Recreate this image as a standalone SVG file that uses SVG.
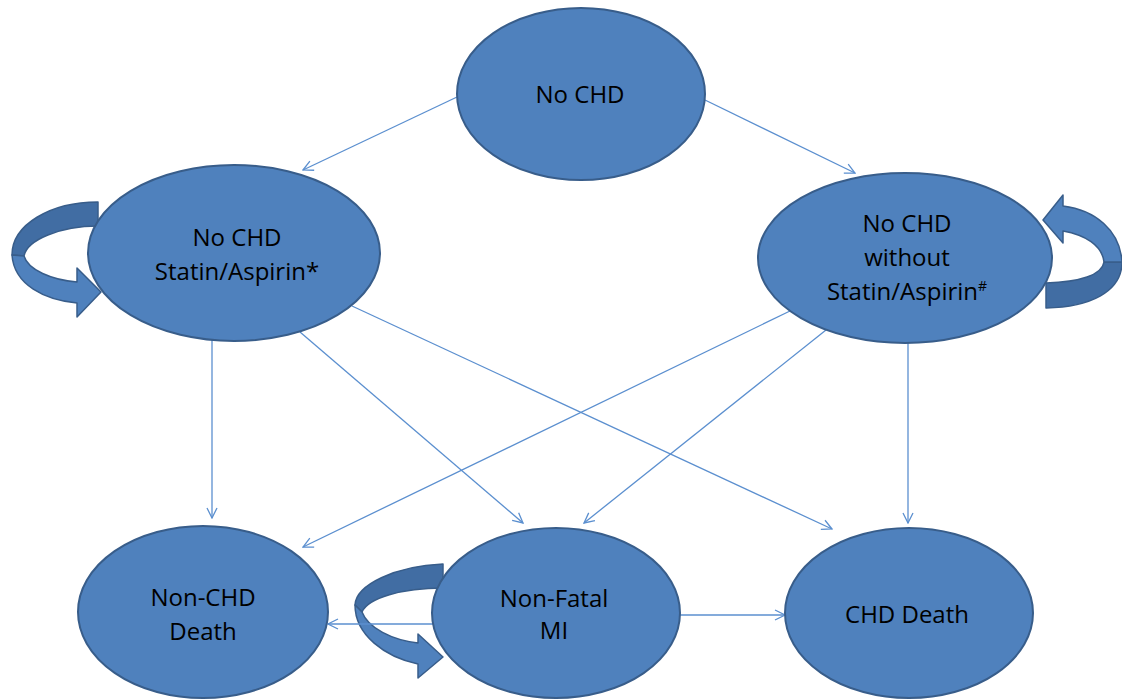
<svg xmlns="http://www.w3.org/2000/svg" width="1122" height="700" viewBox="0 0 1122 700">
<style>
.node{fill:#4F81BD;stroke:#385D8A;stroke-width:2}
.lbl{font-family:"Open Sans","Liberation Sans",sans-serif;font-size:24px;fill:#000;text-anchor:middle}
.conn{stroke:#5B8FCF;stroke-width:1.3;fill:none;marker-end:url(#arr)}
.loopf{fill:#4F81BD;stroke:#385D8A;stroke-width:1.5;stroke-linejoin:round}
.loopb{fill:#416DA3;stroke:#385D8A;stroke-width:1.5;stroke-linejoin:round}
</style>
<defs>
<marker id="arr" viewBox="0 0 12 12" refX="11" refY="6" markerWidth="12" markerHeight="12" markerUnits="userSpaceOnUse" orient="auto">
<path d="M1,1 L11,6 L1,11" fill="none" stroke="#5B8FCF" stroke-width="1.3"/>
</marker>
</defs>
<rect width="1122" height="700" fill="#fff"/>
<g id="loops">
<g id="loop-left">
<path class="loopb" d="M98,202 C50,202 12,225 12,255 L24,256 C27,240 60,226 98,226 Z"/>
<path class="loopf" d="M12,255 C14,285 45,300 77,303 L77,317 L101,292 L77,268 L77,282 C52,280 28,270 24,256 Z"/>
</g>
<g id="loop-right">
<path class="loopb" d="M1122,262 C1122,292 1090,307 1046,308 L1046,283 C1080,282 1102,275 1104,262 Z"/>
<path class="loopf" d="M1122,262 C1120,230 1095,210 1063,206 L1063,195 L1043,220 L1063,243 L1063,231 C1085,235 1102,245 1104,262 Z"/>
</g>
<g id="loop-mid">
<path class="loopb" d="M443,564 C395,566 356,585 355,605 L362,612 C368,598 402,588 443,588 Z"/>
<path class="loopf" d="M355,605 C355,635 385,657 418,664 L418,678 L443,657 L418,634 L418,643 C392,640 368,628 362,612 Z"/>
</g>
</g>
<g id="connectors">
<line class="conn" x1="457" y1="97" x2="303" y2="170"/>
<line class="conn" x1="705" y1="100" x2="855" y2="173"/>
<line class="conn" x1="212" y1="338" x2="212" y2="518"/>
<line class="conn" x1="300" y1="332" x2="523" y2="523"/>
<line class="conn" x1="352" y1="306" x2="832" y2="529"/>
<line class="conn" x1="790" y1="311" x2="303" y2="547"/>
<line class="conn" x1="826" y1="330" x2="584" y2="523"/>
<line class="conn" x1="908" y1="342" x2="908" y2="523"/>
<line class="conn" x1="434" y1="624" x2="328" y2="624"/>
<line class="conn" x1="680" y1="615" x2="785" y2="615"/>
</g>
<g id="n-nochd">
<ellipse class="node" cx="581" cy="94" rx="124" ry="86"/>
<text class="lbl" x="580" y="103">No CHD</text>
</g>
<g id="n-statin">
<ellipse class="node" cx="234" cy="253" rx="146" ry="88"/>
<text class="lbl" x="237" y="246">No CHD</text>
<text class="lbl" x="237" y="280">Statin/Aspirin*</text>
</g>
<g id="n-nostatin">
<ellipse class="node" cx="905" cy="258" rx="147" ry="85"/>
<text class="lbl" x="907" y="232">No CHD</text>
<text class="lbl" x="907" y="266">without</text>
<text class="lbl" x="907" y="300">Statin/Aspirin<tspan font-size="14" dy="-9">#</tspan></text>
</g>
<g id="n-nonchd">
<ellipse class="node" cx="203" cy="612" rx="125" ry="86"/>
<text class="lbl" x="203" y="606">Non-CHD</text>
<text class="lbl" x="203" y="640">Death</text>
</g>
<g id="n-mi">
<ellipse class="node" cx="556" cy="613" rx="124" ry="85"/>
<text class="lbl" x="554" y="607">Non-Fatal</text>
<text class="lbl" x="554" y="639">MI</text>
</g>
<g id="n-chddeath">
<ellipse class="node" cx="909" cy="613" rx="124" ry="85"/>
<text class="lbl" x="907" y="623">CHD Death</text>
</g>
</svg>
